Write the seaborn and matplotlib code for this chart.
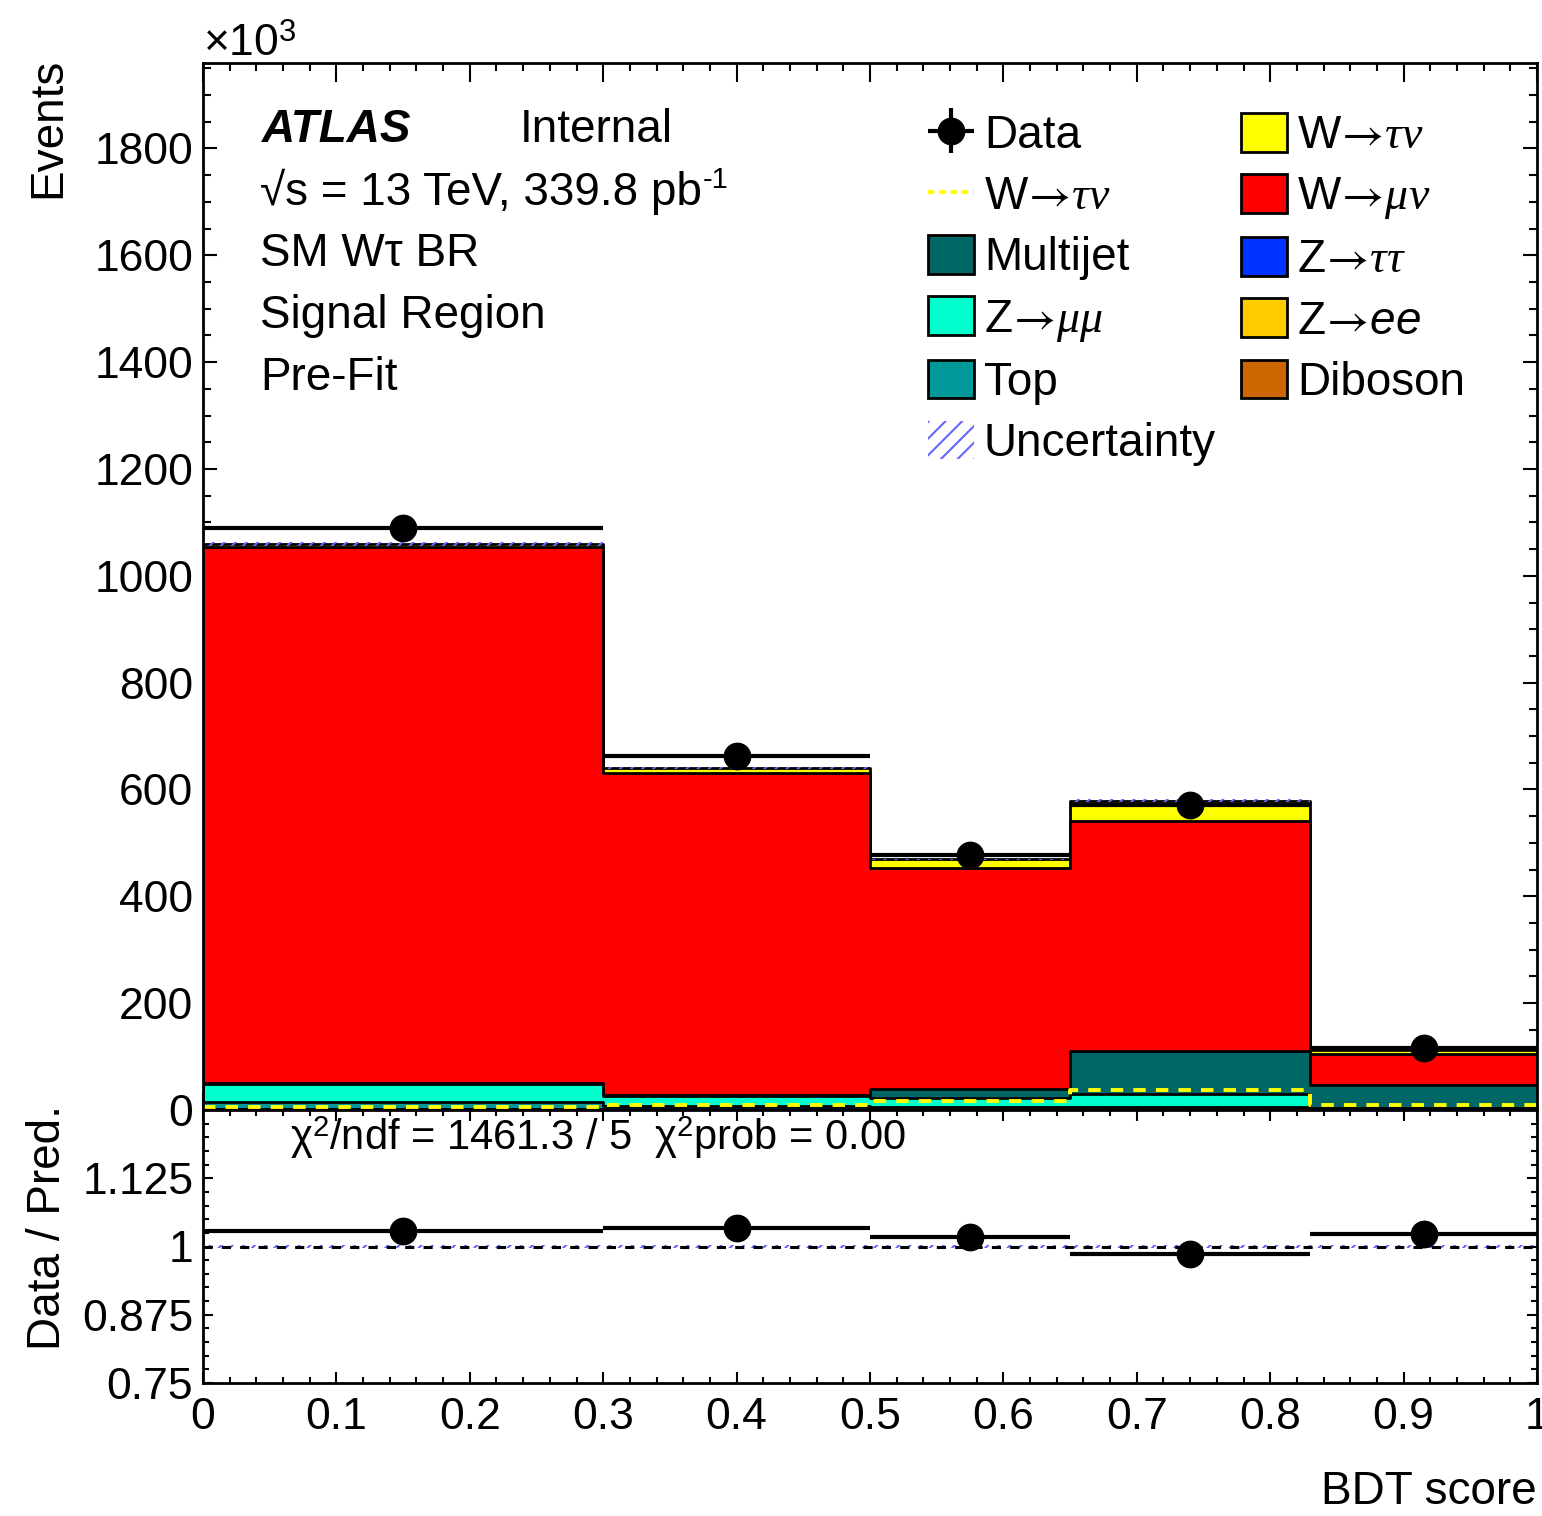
import numpy as np
import pandas as pd
import matplotlib
matplotlib.use("Agg")
import matplotlib.pyplot as plt
import seaborn as sns
from matplotlib.patches import Patch
from matplotlib.lines import Line2D
from matplotlib.ticker import FixedLocator, MultipleLocator, NullFormatter, FixedFormatter

# ---------------- data (Events in units of 10^3) ----------------
bin_edges = [0.0, 0.3, 0.5, 0.65, 0.83, 1.0]
data_vals = [1089.0, 662.0, 477.0, 571.0, 115.5]
diboson = [1.0, 0.5, 0.5, 0.5, 0.3]
z_ee = [0.5, 0.3, 0.3, 0.3, 0.2]
z_tautau = [1.0, 1.0, 1.2, 1.5, 0.5]
top = [12.0, 6.0, 4.0, 3.0, 1.0]
z_mumu = [34.0, 19.0, 16.0, 25.0, 1.0]
multijet = [2.0, 2.0, 17.0, 81.0, 44.0]
w_munu = [1003.0, 603.0, 414.0, 430.0, 57.0]
w_taunu = [6.0, 9.0, 16.0, 38.0, 9.0]
uncertainty = [3.0, 2.0, 1.5, 2.0, 0.4]

x_ticks = [0.0, 0.1, 0.2, 0.3, 0.4, 0.5, 0.6, 0.7, 0.8, 0.9, 1.0]
x_ticklabels = ["0", "0.1", "0.2", "0.3", "0.4", "0.5", "0.6", "0.7", "0.8", "0.9", "1"]
y_ticks = [0, 200, 400, 600, 800, 1000, 1200, 1400, 1600, 1800]
r_ticks = [0.75, 0.875, 1.0, 1.125, 1.25]
r_ticklabels = ["0.75", "0.875", "1", "1.125", ""]

# stack order bottom -> top
layer_names = ["Diboson", "Z->ee", "Z->tautau", "Top", "Z->mumu", "Multijet", "W->munu", "W->taunu"]
layer_vals = [diboson, z_ee, z_tautau, top, z_mumu, multijet, w_munu, w_taunu]
layer_colors = ["#cc6600", "#ffcc00", "#0033ff", "#009999", "#00ffcc", "#006666", "#ff0000", "#ffff00"]

# ---------------- style ----------------
sns.set_style("ticks")
plt.rcParams["font.family"] = ["Liberation Sans", "DejaVu Sans"]
plt.rcParams["mathtext.fontset"] = "custom"
plt.rcParams["mathtext.rm"] = "Liberation Sans"
plt.rcParams["mathtext.it"] = "Liberation Serif:italic"
plt.rcParams["mathtext.sf"] = "Liberation Sans:italic"
plt.rcParams["mathtext.bf"] = "Liberation Sans:bold"
plt.rcParams["mathtext.cal"] = "STIXGeneral"
plt.rcParams["mathtext.fallback"] = "stix"
plt.rcParams["hatch.linewidth"] = 1.5
for key in ["text.color", "axes.labelcolor", "xtick.color", "ytick.color", "xtick.labelcolor", "ytick.labelcolor"]:
    plt.rcParams[key] = "black"

FS = 33
TFS = 32

W, H = 1542, 1516
fig = plt.figure(figsize=(W / 100, H / 100), dpi=100)
ax = fig.add_axes([203 / W, 1 - 1110 / H, 1334 / W, (1110 - 63) / H])
rax = fig.add_axes([203 / W, 1 - 1383 / H, 1334 / W, (1383 - 1110) / H])

edges = np.array(bin_edges)
centers = 0.5 * (edges[:-1] + edges[1:])
halfw = 0.5 * (edges[1:] - edges[:-1])
data_arr = np.array(data_vals)
cum = np.cumsum(np.array(layer_vals), axis=0)
total = cum[-1]
unc = np.array(uncertainty)

# stacked histogram: draw cumulative layers top-down
for i in reversed(range(len(layer_vals))):
    sns.histplot(x=centers, weights=cum[i], bins=bin_edges, element="step", fill=True,
                 color=layer_colors[i], alpha=1, edgecolor="black", linewidth=2.0, ax=ax)

# uncertainty band
ax.fill_between(edges, np.append(total - unc, (total - unc)[-1]), np.append(total + unc, (total + unc)[-1]),
                step="post", facecolor="none", edgecolor="#6666ff", hatch="///", linewidth=0, zorder=5)

# W->taunu unstacked dashed line
sns.histplot(x=centers, weights=w_taunu, bins=bin_edges, element="step", fill=False,
             color="#ffff00", linestyle=(0, (3.2, 2.6)), linewidth=2.8, ax=ax)

# data
ax.errorbar(centers, data_arr, xerr=halfw, yerr=np.sqrt(data_arr * 1000) / 1000, fmt="o",
            color="black", ms=19, elinewidth=3, capsize=0, zorder=10)

ax.set_xlim(0, 1)
ax.set_ylim(0, 1960)
ax.set_xlabel("")
ax.set_ylabel("")
ax.xaxis.set_major_locator(FixedLocator(x_ticks))
ax.xaxis.set_minor_locator(MultipleLocator(0.02))
ax.xaxis.set_major_formatter(NullFormatter())
ax.yaxis.set_major_locator(FixedLocator(y_ticks))
ax.yaxis.set_major_formatter(FixedFormatter([str(v) for v in y_ticks]))
ax.yaxis.set_minor_locator(MultipleLocator(50))
ax.tick_params(axis="both", which="both", direction="in", top=True, right=True, width=1.5,
               labelsize=TFS, colors="black")
ax.tick_params(axis="x", which="major", length=14)
ax.tick_params(axis="x", which="minor", length=6)
ax.tick_params(axis="y", which="major", length=10, pad=7)
ax.tick_params(axis="y", which="minor", length=6)
for s in ax.spines.values():
    s.set_linewidth(2)
    s.set_color("black")

# ---------------- ratio ----------------
ratio = data_arr / total
rerr = np.sqrt(data_arr * 1000) / 1000 / total
runc = unc / total
rax.fill_between(edges, np.append(1 - runc, (1 - runc)[-1]), np.append(1 + runc, (1 + runc)[-1]),
                 step="post", facecolor="none", edgecolor="#6666ff", hatch="///", linewidth=0, zorder=2)
rax.axhline(1.0, color="black", linestyle=(0, (3, 3)), linewidth=2.2, zorder=3)
rax.errorbar(centers, ratio, xerr=halfw, yerr=rerr, fmt="o", color="black", ms=19,
             elinewidth=3, capsize=0, zorder=10)
rax.set_xlim(0, 1)
rax.set_ylim(0.75, 1.25)
rax.xaxis.set_major_locator(FixedLocator(x_ticks))
rax.xaxis.set_major_formatter(FixedFormatter(x_ticklabels))
rax.xaxis.set_minor_locator(MultipleLocator(0.02))
rax.yaxis.set_major_locator(FixedLocator(r_ticks))
rax.yaxis.set_major_formatter(FixedFormatter(r_ticklabels))
rax.yaxis.set_minor_locator(MultipleLocator(0.025))
rax.tick_params(axis="both", which="both", direction="in", top=True, right=True, width=1.5,
                labelsize=TFS, colors="black")
rax.tick_params(axis="x", which="major", length=8, pad=10)
rax.tick_params(axis="x", which="minor", length=4)
rax.tick_params(axis="y", which="major", length=7, pad=7)
rax.tick_params(axis="y", which="minor", length=4)
for s in rax.spines.values():
    s.set_linewidth(2)
    s.set_color("black")

rax.text((290 - 203) / 1334, (1383 - 1138) / 273, "χ$^{2}$/ndf = 1461.3 / 5  χ$^{2}$prob = 0.00",
         transform=rax.transAxes, fontsize=30, ha="left", va="center")

# ---------------- labels ----------------
fig.text(48 / W, 1 - 58 / H, "Events", rotation=90, ha="center", va="top", fontsize=FS)
fig.text(48 / W, 1 - 1228 / H, "Data / Pred.", rotation=90, ha="center", va="center", fontsize=FS)
fig.text(1537 / W, 1 - 1492 / H, "BDT score", ha="right", va="center", fontsize=FS)
fig.text(203 / W, 1 - 44 / H, "×10$^{3}$", ha="left", va="center", fontsize=TFS)

fig.text(262 / W, 1 - 130 / H, "ATLAS", fontsize=FS, fontweight="bold", fontstyle="italic",
         ha="left", va="center")
fig.text(520 / W, 1 - 130 / H, "Internal", fontsize=FS, ha="left", va="center")
lumi = fig.text(260 / W, 1 - 192 / H, "√s = 13 TeV, 339.8 pb", fontsize=FS, ha="left", va="center")
fig.text(260 / W, 1 - 254 / H, "SM Wτ BR", fontsize=FS, ha="left", va="center")
fig.text(260 / W, 1 - 316 / H, "Signal Region", fontsize=FS, ha="left", va="center")
fig.text(260 / W, 1 - 378 / H, "Pre-Fit", fontsize=FS, ha="left", va="center")

fig.canvas.draw()
bb = lumi.get_window_extent()
fig.text((bb.x1 + 1) / W, (bb.y1 + 3) / H, "-1", fontsize=21, ha="left", va="top")

# ---------------- legend ----------------
data_handle = ax.errorbar([], [], xerr=[], yerr=[], fmt="o", color="black", ms=19, elinewidth=3, capsize=0)
handles = [
    data_handle,
    Line2D([], [], color="#ffff00", linestyle=(0, (1.5, 1.2)), linewidth=3),
    Patch(facecolor="#006666", edgecolor="black", linewidth=2),
    Patch(facecolor="#00ffcc", edgecolor="black", linewidth=2),
    Patch(facecolor="#009999", edgecolor="black", linewidth=2),
    Patch(facecolor="none", edgecolor="#6666ff", hatch="//", linewidth=0),
    Patch(facecolor="#ffff00", edgecolor="black", linewidth=2),
    Patch(facecolor="#ff0000", edgecolor="black", linewidth=2),
    Patch(facecolor="#0033ff", edgecolor="black", linewidth=2),
    Patch(facecolor="#ffcc00", edgecolor="black", linewidth=2),
    Patch(facecolor="#cc6600", edgecolor="black", linewidth=2),
]
arrow = r"\!\mathcal{\rightarrow}\!"
labels = [
    "Data",
    r"W$" + arrow + r"\tau\nu$",
    "Multijet",
    r"Z$" + arrow + r"\mu\mu$",
    "Top",
    "Uncertainty",
    r"W$" + arrow + r"\tau\nu$",
    r"W$" + arrow + r"\mu\nu$",
    r"Z$" + arrow + r"\tau\tau$",
    r"Z$" + arrow + r"\mathsf{ee}$",
    "Diboson",
]
fig.legend(handles, labels, ncol=2, loc="upper left", bbox_to_anchor=(928 / W, 1 - 113 / H),
           frameon=False, fontsize=FS, handlelength=1.0, handleheight=0.92, handletextpad=0.22,
           columnspacing=0.55, labelspacing=0.35, borderpad=0, borderaxespad=0)

fig.savefig("out.png", dpi=100)
